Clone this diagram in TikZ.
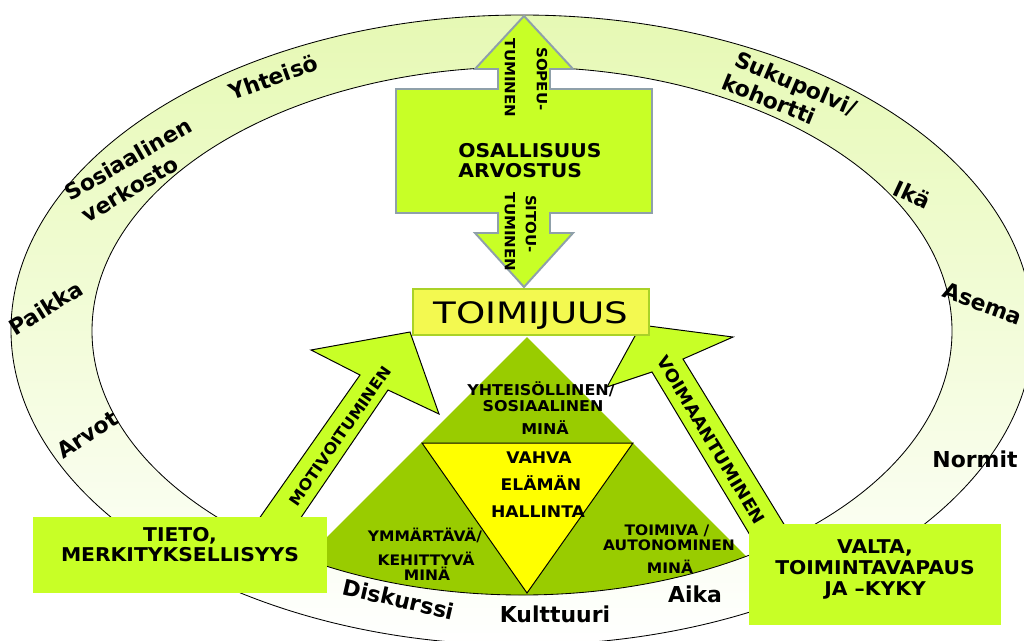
\documentclass[tikz,border=0pt]{standalone}
\usepackage{fontspec}
\newfontfamily\capsfont{DejaVu Sans}[FakeStretch=1.07]
\newfontfamily\ringfont{DejaVu Sans}
\newfontfamily\titlefont{DejaVu Sans}[FakeStretch=1.26]
\definecolor{limefill}{RGB}{200,255,38}
\definecolor{olivetri}{RGB}{153,204,0}
\definecolor{yeltri}{RGB}{255,255,0}
\definecolor{arrowedge}{RGB}{143,160,170}
\definecolor{toimfill}{RGB}{243,249,80}
\definecolor{toimedge}{RGB}{170,210,40}
\definecolor{ringtop}{RGB}{230,249,180}
\begin{document}
\begin{tikzpicture}[x=0.025cm,y=-0.025cm,
  ringlbl/.style={font=\ringfont\bfseries\fontsize{15.6}{18}\selectfont, inner sep=0pt, anchor=base},
  capbig/.style={font=\capsfont\bfseries\fontsize{13.5}{16}\selectfont, inner sep=0pt, anchor=base},
  capmid/.style={font=\capsfont\bfseries\fontsize{11.4}{14}\selectfont, inner sep=0pt, anchor=base},
  capsml/.style={font=\capsfont\bfseries\fontsize{10.6}{13}\selectfont, inner sep=0pt, anchor=base},
  captiny/.style={font=\capsfont\bfseries\fontsize{10.3}{12}\selectfont, inner sep=0pt, anchor=base},
  vertlbl/.style={font=\capsfont\bfseries\fontsize{10}{12}\selectfont, inner sep=0pt, rotate=-90},
  ringline/.style={draw=black, line width=0.6pt},
  sidearrow/.style={fill=limefill, draw=black, line width=0.7pt, line join=miter},
  bigarrow/.style={fill=limefill, draw=arrowedge, line width=1.4pt, line join=miter},
  limebox/.style={fill=limefill, draw=none, inner sep=0pt},
]
\useasboundingbox (0,0) rectangle (1024,640);
\clip (0,0) rectangle (1024,640);

% ring band
\shade[even odd rule, top color=ringtop, bottom color=white]
  (522,330) ellipse [x radius=511, y radius=315]
  (522,331) ellipse [x radius=430, y radius=264];

% labels around the ring
\node[ringlbl, rotate=20] (yhteiso) at (276,85) {Yhteisö};
\node[ringlbl, rotate=30] (sosiaal) at (132,166) {Sosiaalinen};
\node[ringlbl, rotate=31] (verkosto) at (134,196) {verkosto};
\node[ringlbl, rotate=32] (paikka) at (50,315) {Paikka};
\node[ringlbl, rotate=33] (arvot) at (92,441) {Arvot};
\node[ringlbl, rotate=-23] (sukupolvi) at (793,91) {Sukupolvi/};
\node[ringlbl, rotate=-22] (kohortti) at (766,107) {kohortti};
\node[ringlbl, rotate=-25] (ika) at (909,202) {Ikä};
\node[ringlbl, rotate=-20] (asema) at (980,311) {Asema};
\node[ringlbl] (normit) at (975,467) {Normit};
\node[ringlbl, rotate=-13] (diskurssi) at (397,607) {Diskurssi};
\node[ringlbl] (kulttuuri) at (555,622) {Kulttuuri};
\node[ringlbl] (aika) at (695,602) {Aika};

% green triangle, cut by the inner edge of the ring
\begin{scope}
  \clip (522,331) ellipse [x radius=430, y radius=264];
  \fill[olivetri] (527,337) -- (262,602) -- (792,602) -- cycle;
\end{scope}

% ring outlines
\draw[ringline] (522,330) ellipse [x radius=511, y radius=315];
\draw[ringline] (522,331) ellipse [x radius=430, y radius=264];

% inner yellow triangle
\draw[fill=yeltri, draw=black, line width=0.7pt, line join=miter]
  (422,443) -- (633,443) -- (527,593) -- cycle;

% vertical double arrow with its box
\draw[bigarrow] (524,16) -- (573,69) -- (550,69) -- (550,89) -- (652,89)
  -- (652,213) -- (550,213) -- (550,233) -- (573,233) -- (524,287)
  -- (475,233) -- (498,233) -- (498,213) -- (396,213) -- (396,89)
  -- (498,89) -- (498,69) -- (475,69) -- cycle;
\node[vertlbl] (sopeu) at (542,79) {SOPEU-};
\node[vertlbl] (tuminenA) at (510,78) {TUMINEN};
\node[vertlbl] (sitou) at (531,224) {SITOU-};
\node[vertlbl] (tuminenB) at (510,232) {TUMINEN};
\node[capbig, anchor=base west] (osall) at (458,157) {OSALLISUUS};
\node[capbig, anchor=base west] (arvostus) at (458,177) {ARVOSTUS};

% side arrows
\draw[sidearrow] (410,332) -- (439,414) -- (388,390) -- (272,560) -- (230,560)
  -- (360,375) -- (311,350) -- cycle;
\node[font=\capsfont\bfseries\fontsize{10.9}{13}\selectfont, inner sep=0pt, rotate=55]
  (motiv) at (340,436) {MOTIVOITUMINEN};
\draw[sidearrow] (641,325) -- (733,337) -- (683,359) -- (812,570) -- (771,570)
  -- (652,372) -- (607,387) -- cycle;
\node[font=\capsfont\bfseries\fontsize{12.1}{14}\selectfont, inner sep=0pt, rotate=-59]
  (voima) at (711,440) {VOIMAANTUMINEN};

% agency box
\node[fill=toimfill, draw=toimedge, line width=1.4pt, minimum width=5.9cm,
  minimum height=1.15cm, inner sep=0pt] (toimbox) at (531,312) {};
\node[font=\titlefont\fontsize{21}{24}\selectfont, inner sep=0pt, anchor=base]
  (toimtxt) at (531,323) {TOIMIJUUS};

% texts inside the triangles
\node[capsml] (yht1) at (541,395) {YHTEISÖLLINEN/};
\node[capsml] (yht2) at (543,411) {SOSIAALINEN};
\node[capsml] (yht3) at (545,434) {MINÄ};
\node[capmid] (vah1) at (539,463) {VAHVA};
\node[capmid] (vah2) at (541,490) {ELÄMÄN};
\node[capmid] (vah3) at (538,517) {HALLINTA};
\node[captiny] (ymm1) at (425,541) {YMMÄRTÄVÄ/};
\node[captiny] (ymm2) at (426,565) {KEHITTYVÄ};
\node[captiny] (ymm3) at (427,580) {MINÄ};
\node[captiny] (toi1) at (667,535) {TOIMIVA /};
\node[captiny] (toi2) at (669,550) {AUTONOMINEN};
\node[captiny] (toi3) at (670,573) {MINÄ};

% knowledge and power boxes
\node[limebox, minimum width=7.35cm, minimum height=1.9cm] (tieto) at (180,555) {};
\node[capbig] (tieto1) at (180,541) {TIETO,};
\node[capbig] (tieto2) at (180,561) {MERKITYKSELLISYYS};
\node[limebox, minimum width=6.3cm, minimum height=2.525cm] (valta) at (875,574.5) {};
\node[capbig] (valta1) at (875,553) {VALTA,};
\node[capbig] (valta2) at (875,574) {TOIMINTAVAPAUS};
\node[capbig] (valta3) at (875,595) {JA –KYKY};
\end{tikzpicture}
\end{document}
